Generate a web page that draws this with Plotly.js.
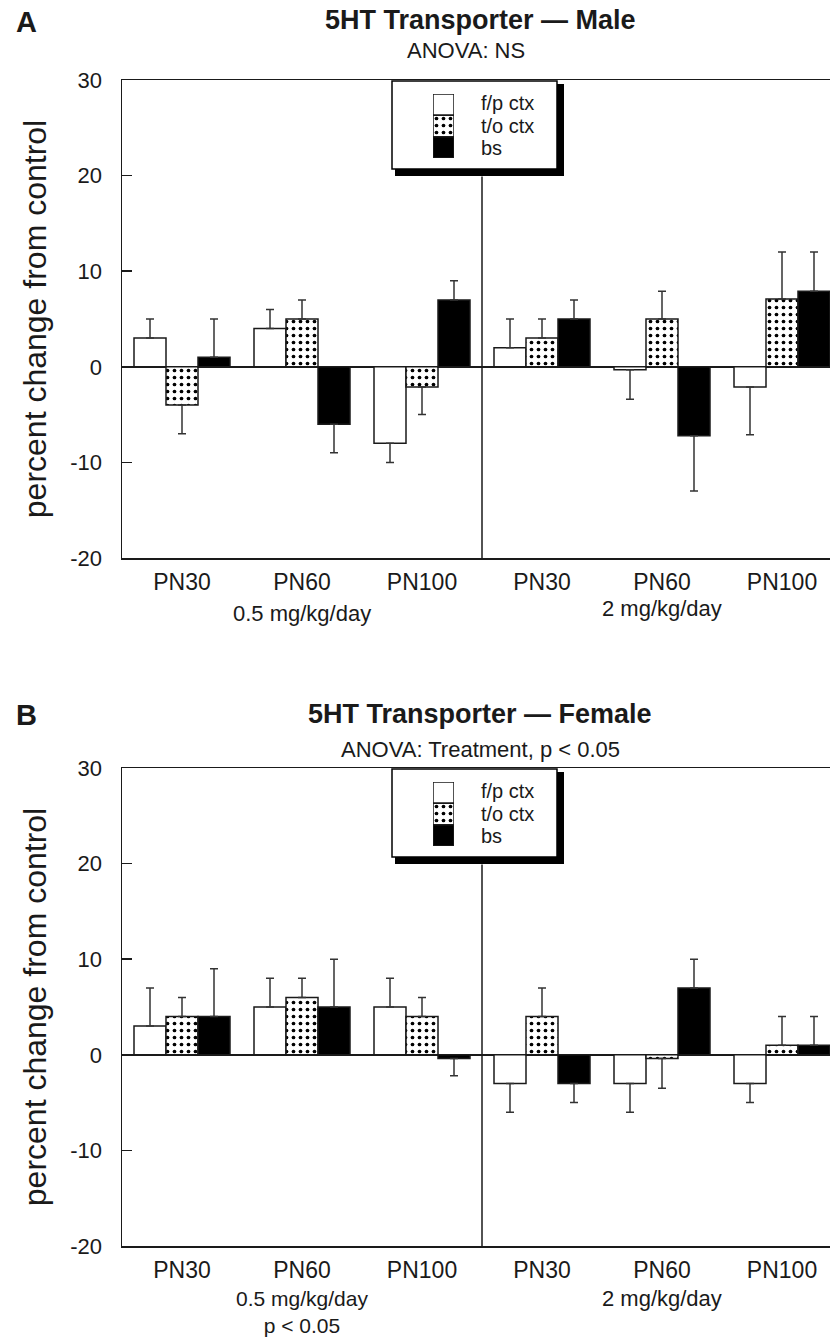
<!DOCTYPE html>
<html><head><meta charset="utf-8">
<script src="https://cdn.plot.ly/plotly-3.0.1.min.js"></script>
<style>html,body{margin:0;padding:0;background:#fff}</style>
</head><body><div id="chart" style="width:830px;height:1341px"></div>
<script>
// ---- data ----
const categories = ['PN30', 'PN60', 'PN100', 'PN30', 'PN60', 'PN100'];
const doseLabels = ['0.5 mg/kg/day', '2 mg/kg/day'];
const seriesNames = ['f/p ctx', 't/o ctx', 'bs'];
const yTickVals = [-20, -10, 0, 10, 20, 30];
const yTickText = ['-20', '-10', '0', '10', '20', '30'];

const maleFP = [3, 4, -8, 2, -0.3, -2.1];
const maleFPErr = [2, 2, 2, 3, 3.1, 5];
const maleTO = [-4, 5, -2.1, 3, 5, 7.1];
const maleTOErr = [3, 2, 2.9, 2, 2.9, 4.9];
const maleBS = [1, -6, 7, 5, -7.2, 7.9];
const maleBSErr = [4, 3, 2, 2, 5.8, 4.1];

const femFP = [3, 5, 5, -3, -3, -3];
const femFPErr = [4, 3, 3, 3, 3, 2];
const femTO = [4, 6, 4, 4, -0.4, 1];
const femTOErr = [2, 2, 2, 3, 3.1, 3];
const femBS = [4, 5, -0.4, -3, 7, 1];
const femBSErr = [5, 5, 1.8, 2, 3, 3];

const titles = ['5HT Transporter — Male', '5HT Transporter — Female'];
const subtitles = ['ANOVA: NS', 'ANOVA: Treatment, p &lt; 0.05'];
const leftNotes = ['0.5 mg/kg/day', '0.5 mg/kg/day<br>p &lt; 0.05'];
const panelLetters = ['A', 'B'];
const yTitle = 'percent change from control';

// ---- style ----
const W = 830, H = 1341;
const FONT = 'Liberation Sans, Arial, Helvetica, sans-serif';
const INK = '#1a1a1a';
const px = x => x / W;
const py = y => 1 - y / H;
const panels = [{top: 80, bot: 558}, {top: 768, bot: 1246}];
const xLeft = 122;

const styles = [
  {color: 'white', pattern: {shape: ''}},
  {color: 'white', pattern: {shape: '.', fgcolor: 'black', bgcolor: 'white', size: 7, solidity: 0.22, fillmode: 'replace'}},
  {color: 'black', pattern: {shape: ''}}
];

const panelData = [
  [[maleFP, maleFPErr], [maleTO, maleTOErr], [maleBS, maleBSErr]],
  [[femFP, femFPErr], [femTO, femTOErr], [femBS, femBSErr]]
];

const xs = categories.map((_, i) => i);
const traces = [];
panelData.forEach((series, p) => {
  const xa = p === 0 ? 'x' : 'x2', ya = p === 0 ? 'y' : 'y2';
  series.forEach(([vals, err], s) => {
    traces.push({
      type: 'bar', x: xs, y: vals, xaxis: xa, yaxis: ya, name: seriesNames[s],
      showlegend: false,
      marker: {color: styles[s].color, pattern: styles[s].pattern, line: {color: INK, width: 1.5}},
      error_y: {
        type: 'data', symmetric: false,
        array: vals.map((v, i) => v >= 0 ? err[i] : 0),
        arrayminus: vals.map((v, i) => v < 0 ? err[i] : 0),
        color: '#333', thickness: 1.5, width: 4
      },
      hoverinfo: 'skip'
    });
  });
  // legend swatches (stacked)
  const lxa = p === 0 ? 'x3' : 'x4', lya = p === 0 ? 'y3' : 'y4';
  [2, 1, 0].forEach((base, s) => {
    traces.push({
      type: 'bar', x: [0], y: [1], base: [base], width: [1], offset: -0.5,
      xaxis: lxa, yaxis: lya, showlegend: false, hoverinfo: 'skip',
      marker: {color: styles[s].color, pattern: styles[s].pattern, line: {color: INK, width: 1.5}}
    });
  });
});

const xAxisBase = {
  domain: [px(xLeft), 1], range: [-0.5, 5.4],
  tickvals: xs, ticktext: categories, ticks: '',
  showline: true, linecolor: INK, linewidth: 1.5, mirror: true,
  showgrid: false, zeroline: false,
  tickfont: {family: FONT, size: 23, color: INK}, ticklabelstandoff: 3
};
const yAxisBase = {
  range: [-20, 30], tickvals: yTickVals, ticktext: yTickText,
  ticks: 'inside', ticklen: 10, tickwidth: 1.5, tickcolor: INK,
  showline: true, linecolor: INK, linewidth: 1.5,
  showgrid: false, zeroline: true, zerolinecolor: INK, zerolinewidth: 1.5,
  tickfont: {family: FONT, size: 22, color: INK}, ticklabelstandoff: 14,
  title: {text: yTitle, font: {family: FONT, size: 32, color: INK}, standoff: 14}
};

const layout = {
  width: W, height: H, margin: {l: 0, r: 0, t: 0, b: 0},
  paper_bgcolor: 'white', plot_bgcolor: 'rgba(0,0,0,0)',
  barmode: 'group', bargap: 0.2, bargroupgap: 0,
  showlegend: false,
  xaxis: Object.assign({}, xAxisBase, {anchor: 'y'}),
  yaxis: Object.assign({}, yAxisBase, {anchor: 'x', domain: [py(panels[0].bot), py(panels[0].top)]}),
  xaxis2: Object.assign({}, xAxisBase, {anchor: 'y2'}),
  yaxis2: Object.assign({}, yAxisBase, {anchor: 'x2', domain: [py(panels[1].bot), py(panels[1].top)]}),
  shapes: [], annotations: []
};

panels.forEach((pn, p) => {
  const lx = p === 0 ? 'xaxis3' : 'xaxis4', ly = p === 0 ? 'yaxis3' : 'yaxis4';
  layout[lx] = {domain: [px(433), px(454)], range: [-0.5, 0.5], visible: false, fixedrange: true, anchor: p === 0 ? 'y3' : 'y4'};
  layout[ly] = {domain: [py(pn.top + 78), py(pn.top + 14)], range: [0, 3], visible: false, fixedrange: true, anchor: p === 0 ? 'x3' : 'x4'};
  const xr = p === 0 ? 'x' : 'x2', yr = p === 0 ? 'y' : 'y2';
  // divider between dose groups
  layout.shapes.push({type: 'line', xref: xr, yref: yr, x0: 2.5, x1: 2.5, y0: -20, y1: 19.9,
    line: {color: INK, width: 1.5}, layer: 'below'});
  // legend shadow + box
  layout.shapes.push({type: 'rect', xref: 'paper', yref: 'paper', x0: px(395), x1: px(564),
    y0: py(pn.top + 96), y1: py(pn.top + 4), fillcolor: 'black', line: {width: 0}, layer: 'below'});
  layout.shapes.push({type: 'rect', xref: 'paper', yref: 'paper', x0: px(392), x1: px(557),
    y0: py(pn.top + 89), y1: py(pn.top + 1), fillcolor: 'white', line: {color: 'black', width: 1.5}, layer: 'below'});
  // legend labels
  [23, 45.5, 68].forEach((dy, s) => {
    layout.annotations.push({xref: 'paper', yref: 'paper', x: px(480), y: py(pn.top + dy),
      xanchor: 'left', yanchor: 'middle', text: seriesNames[s], showarrow: false, borderpad: 0,
      font: {family: FONT, size: 20, color: INK}});
  });
  // titles
  const tY = p === 0 ? 20 : 714, sY = p === 0 ? 50 : 749;
  layout.annotations.push({xref: 'paper', yref: 'paper', x: px(480), y: py(tY), xanchor: 'center', yanchor: 'middle',
    text: '<b>' + titles[p] + '</b>', showarrow: false, font: {family: FONT, size: 27, color: INK}});
  layout.annotations.push({xref: 'paper', yref: 'paper', x: px(p === 0 ? 466 : 480), y: py(sY), xanchor: 'center', yanchor: 'middle',
    text: subtitles[p], showarrow: false, font: {family: FONT, size: 22, color: INK}});
  layout.annotations.push({xref: 'paper', yref: 'paper', x: px(14), y: py(p === 0 ? 22 : 715), xanchor: 'left', yanchor: 'middle',
    text: '<b>' + panelLetters[p] + '</b>', showarrow: false, font: {family: FONT, size: 29, color: INK}});
  // dose group labels
  layout.annotations.push({xref: xr, yref: 'paper', x: 1, y: py(pn.bot + (p === 0 ? 41 : 39)), xanchor: 'center', yanchor: 'top',
    text: leftNotes[p], showarrow: false, font: {family: FONT, size: p === 0 ? 22 : 21, color: INK}});
  layout.annotations.push({xref: xr, yref: 'paper', x: 4, y: py(pn.bot + (p === 0 ? 36 : 38)), xanchor: 'center', yanchor: 'top',
    text: doseLabels[1], showarrow: false, font: {family: FONT, size: 22, color: INK}});
});

Plotly.newPlot('chart', traces, layout, {staticPlot: true, displayModeBar: false});
</script></body></html>
